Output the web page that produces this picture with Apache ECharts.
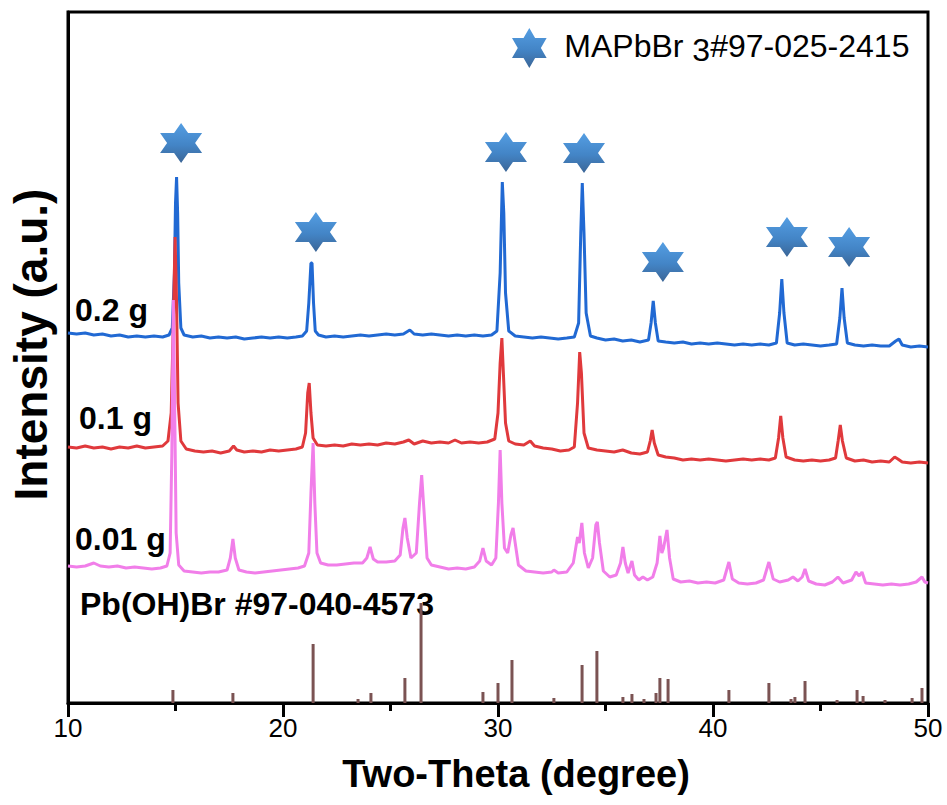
<!DOCTYPE html>
<html>
<head>
<meta charset="utf-8">
<script src="https://cdn.jsdelivr.net/npm/echarts@6/dist/echarts.min.js"></script>
<style>
html,body{margin:0;padding:0;background:#fff;}
#main{width:947px;height:805px;}
</style>
</head>
<body>
<div id="main"></div>
<script>
// ---- data (two-theta in degrees, intensity in a.u. with vertical offsets as plotted) ----
var xTicks = [10, 20, 30, 40, 50];

var sample02 = [
[10.0,370],[10.4,369],[10.8,370],[11.2,368],[11.6,369],[12.0,367],[12.4,368],[12.8,366],[13.2,367],[13.6,366],[14.0,367],[14.4,366],[14.7,368],
[14.85,375],[14.95,430],[15.0,500],[15.05,526],[15.1,490],[15.15,420],[15.25,375],[15.4,368],
[15.8,366],[16.2,367],[16.6,365],[17.0,366],[17.4,365],[17.8,366],[18.2,364],[18.6,365],[19.0,366],[19.4,365],[19.8,366],[20.2,365],[20.6,366],[20.9,367],
[21.1,372],[21.2,400],[21.3,440],[21.35,440],[21.42,400],[21.5,372],[21.65,368],
[22.0,366],[22.4,367],[22.8,366],[23.2,367],[23.6,368],[24.0,367],[24.4,368],[24.8,369],[25.2,368],[25.6,369],[25.9,373],[26.1,369],[26.5,368],[26.9,369],[27.3,368],[27.7,367],[28.1,368],[28.5,367],[28.9,368],[29.3,367],[29.7,368],
[29.95,372],[30.1,430],[30.2,521],[30.27,490],[30.35,410],[30.5,372],
[30.8,367],[31.2,366],[31.6,365],[32.0,366],[32.4,365],[32.8,364],[33.2,365],[33.55,366],
[33.75,380],[33.85,470],[33.92,520],[34.0,470],[34.1,390],[34.3,367],
[34.6,365],[35.0,363],[35.4,364],[35.8,362],[36.2,363],[36.6,361],[37.0,363],
[37.12,380],[37.22,402],[37.32,380],[37.45,362],
[37.8,361],[38.2,360],[38.6,361],[39.0,359],[39.4,360],[39.8,359],[40.2,360],[40.6,359],[41.0,358],[41.4,359],[41.8,358],[42.2,359],[42.6,358],[42.95,360],
[43.1,390],[43.2,424],[43.3,390],[43.45,360],
[43.8,358],[44.2,359],[44.6,358],[45.0,357],[45.4,358],[45.75,359],
[45.9,385],[46.0,415],[46.1,385],[46.25,360],
[46.6,358],[47.0,357],[47.4,358],[47.8,357],[48.2,357],[48.5,362],[48.65,364],[48.8,358],[49.2,356],[49.6,357],[50.0,356]
];

var sample01 = [
[10.0,256],[10.4,255],[10.8,257],[11.2,255],[11.6,256],[12.0,254],[12.4,256],[12.8,255],[13.2,257],[13.6,255],[14.0,256],[14.4,257],
[14.65,262],[14.8,290],[14.9,380],[14.98,466],[15.05,400],[15.12,300],[15.25,262],
[15.5,254],[15.9,252],[16.3,251],[16.7,252],[17.1,250],[17.5,252],[17.7,257],[17.85,253],[18.2,251],[18.6,252],[19.0,251],[19.4,253],[19.8,252],[20.2,253],[20.6,254],[20.9,256],
[21.05,270],[21.15,310],[21.22,320],[21.3,290],[21.4,265],[21.6,258],
[22.0,257],[22.4,258],[22.8,257],[23.2,259],[23.6,258],[24.0,259],[24.4,258],[24.8,260],[25.2,259],[25.6,261],[25.85,263],[26.1,259],[26.5,262],[26.9,260],[27.3,261],[27.7,260],[28.0,263],[28.3,260],[28.7,261],[29.1,260],[29.5,261],
[29.85,264],[30.0,290],[30.1,340],[30.18,365],[30.25,330],[30.35,280],[30.5,262],
[30.8,259],[31.2,258],[31.5,262],[31.7,257],[32.1,255],[32.5,254],[32.9,252],[33.3,253],[33.55,256],
[33.7,300],[33.8,351],[33.88,330],[34.0,270],[34.2,255],
[34.6,253],[35.0,252],[35.4,251],[35.8,253],[36.2,250],[36.6,249],[36.95,251],
[37.08,262],[37.17,273],[37.27,260],[37.45,248],
[37.8,246],[38.2,245],[38.6,243],[39.0,244],[39.4,243],[39.8,244],[40.2,243],[40.6,242],[41.0,243],[41.4,244],[41.8,243],[42.2,244],[42.6,243],[42.9,245],
[43.05,265],[43.15,287],[43.25,265],[43.4,246],
[43.8,243],[44.2,242],[44.6,243],[45.0,242],[45.4,243],[45.7,245],
[45.82,262],[45.92,278],[46.02,262],[46.2,245],
[46.6,242],[47.0,243],[47.4,241],[47.8,242],[48.2,241],[48.45,246],[48.6,244],[48.8,241],[49.2,240],[49.6,241],[50.0,240]
];

var sample001 = [
[10.0,137],[10.4,136],[10.8,137],[11.2,140],[11.5,137],[11.9,136],[12.3,137],[12.7,135],[13.1,136],[13.5,135],[13.9,134],[14.3,135],[14.6,137],
[14.75,150],[14.83,250],[14.9,403],[14.96,300],[15.03,170],[15.15,138],
[15.4,132],[15.8,131],[16.2,130],[16.6,131],[17.0,131],[17.4,133],[17.55,145],[17.67,164],[17.78,145],[17.95,133],
[18.3,131],[18.7,130],[19.1,131],[19.5,132],[19.9,133],[20.3,134],[20.7,135],[21.0,137],
[21.2,150],[21.3,210],[21.4,260],[21.48,200],[21.58,150],[21.75,140],
[22.1,138],[22.5,138],[22.9,139],[23.3,140],[23.7,140],[23.9,145],[24.05,156],[24.2,144],[24.4,141],[24.8,141],[25.2,142],
[25.45,148],[25.58,175],[25.67,185],[25.78,165],[25.95,145],[26.2,150],[26.35,200],[26.45,228],[26.55,195],[26.7,145],
[26.9,138],[27.3,136],[27.7,134],[28.1,135],[28.5,134],[28.9,136],[29.15,142],[29.3,155],[29.45,142],[29.7,138],
[29.9,145],[30.02,200],[30.1,253],[30.18,200],[30.3,155],[30.45,150],[30.6,168],[30.7,175],[30.8,160],[30.95,138],
[31.3,132],[31.7,131],[32.1,130],[32.5,131],[32.6,133],[32.8,130],[33.2,131],
[33.5,140],[33.7,166],[33.78,160],[33.9,180],[34.02,150],[34.2,135],[34.4,145],[34.55,178],[34.62,181],[34.72,160],[34.9,132],
[35.2,126],[35.5,128],[35.7,140],[35.81,156],[35.92,140],[36.05,130],[36.23,142],[36.35,128],[36.55,123],[36.74,126],[36.95,123],
[37.2,126],[37.4,140],[37.53,167],[37.62,150],[37.7,155],[37.86,173],[37.98,145],[38.15,124],
[38.5,121],[38.9,122],[39.3,120],[39.7,121],[40.1,120],[40.5,123],[40.74,141],[40.9,124],[41.2,120],[41.6,119],[42.0,120],[42.35,123],[42.6,141],[42.8,124],
[43.1,121],[43.5,123],[43.72,126],[43.95,122],[44.15,126],[44.28,134],[44.45,122],[44.8,119],[45.2,118],[45.55,121],[45.81,126],[46.05,120],
[46.45,123],[46.65,131],[46.8,127],[46.93,131],[47.1,120],[47.5,119],[47.9,118],[48.3,119],[48.7,118],[49.1,119],[49.45,121],[49.72,126],[49.85,121],[50.0,120]
];

// Pb(OH)Br reference pattern #97-040-4573 (stick positions and heights)
var refPbOHBr = [
[14.88,13],[17.67,10],[21.4,59],[23.49,4],[24.09,10],[25.67,25],[26.42,100],[29.3,11],[30.0,20],[30.65,43],
[32.6,5],[33.91,38],[34.6,52],[35.81,6],[36.23,9],[36.79,4],[37.35,10],[37.53,25],[37.91,24],[40.74,13],
[42.6,20],[43.63,4],[43.81,6],[44.28,22],[45.77,3],[46.7,13],[46.98,7],[48.0,3],[49.26,5],[49.72,15]
];

// MAPbBr3 peak markers (stars)
var starMarks = [[15.26,560],[21.53,471],[30.37,551],[34.0,550],[37.67,441],[43.44,466],[46.33,456]];

var sampleLabels = ['0.2 g', '0.1 g', '0.01 g', 'Pb(OH)Br #97-040-4573'];

// ---- chart ----
var FONT = '"Liberation Sans", Arial, sans-serif';
var STAR = 'path://M0,-10 L2.887,-5 L8.66,-5 L5.774,0 L8.66,5 L2.887,5 L0,10 L-2.887,5 L-8.66,5 L-5.774,0 L-8.66,-5 L-2.887,-5 Z';
var starFill = {type:'linear', x:0, y:0, x2:0, y2:1, colorStops:[{offset:0,color:'#2a86dc'},{offset:0.55,color:'#1466b8'},{offset:1,color:'#0a3f7c'}]};

var chart = echarts.init(document.getElementById('main'), null, {renderer:'svg'});
var option = {
  animation: false,
  backgroundColor: '#fff',
  textStyle: {fontFamily: FONT},
  grid: {left: 68, right: 19, top: 12, bottom: 102, show: true, borderColor: '#000', borderWidth: 3, backgroundColor: 'transparent'},
  legend: {
    left: 512, top: 22, padding: 0,
    itemWidth: 42, itemHeight: 40,
    icon: STAR,
    data: ['MAPbBr3#97-025-2415'],
    formatter: function(){ return '{f|MAPbBr }{s|3}{m|#97-025-2415}'; },
    textStyle: {
      color: '#000', fontFamily: FONT, fontSize: 32,
      rich: {
        f: {fontSize: 32, fontFamily: FONT, color:'#000', verticalAlign: 'top', lineHeight: 36, padding: [0,0,0,9]},
        m: {fontSize: 32, fontFamily: FONT, color:'#000', verticalAlign: 'top', lineHeight: 36},
        s: {fontSize: 32, fontFamily: FONT, color:'#000', verticalAlign: 'bottom', lineHeight: 36, padding: [12,0,0,0]}
      }
    }
  },
  xAxis: {
    type: 'value', min: xTicks[0], max: xTicks[xTicks.length-1], interval: 10,
    name: 'Two-Theta (degree)', nameLocation: 'middle', nameGap: 52,
    nameTextStyle: {fontSize: 38, fontWeight: 'bold', color: '#000', fontFamily: FONT, padding: [0,0,0,36]},
    axisLine: {show: true, onZero: false, lineStyle: {color: '#000', width: 3}},
    axisTick: {show: true, inside: false, length: 14, lineStyle: {color: '#000', width: 3}},
    minorTick: {show: true, splitNumber: 2, length: 8, lineStyle: {color: '#000', width: 3}},
    axisLabel: {fontSize: 26, color: '#000', margin: 12, fontFamily: FONT},
    splitLine: {show: false}, minorSplitLine: {show: false}
  },
  yAxis: {
    type: 'value', min: 0, max: 691,
    name: 'Intensity (a.u.)', nameLocation: 'middle', nameGap: 14, nameRotate: 90,
    nameTextStyle: {fontSize: 46, fontWeight: 'bold', color: '#000', fontFamily: FONT, padding: [0,0,0,26]},
    axisLine: {show: true, lineStyle: {color: '#000', width: 3}},
    axisTick: {show: false}, axisLabel: {show: false}, splitLine: {show: false}
  },
  series: [
    {name: 'Pb(OH)Br', type: 'bar', data: refPbOHBr, barWidth: 3, itemStyle: {color: '#7b5353'}, z: 2},
    {name: '0.2 g', type: 'line', data: sample02, showSymbol: false, lineStyle: {color: '#2169d3', width: 3}, itemStyle:{color:'#2169d3'}, z: 3},
    {name: '0.1 g', type: 'line', data: sample01, showSymbol: false, lineStyle: {color: '#e0393c', width: 3}, itemStyle:{color:'#e0393c'}, z: 4},
    {name: '0.01 g', type: 'line', data: sample001, showSymbol: false, lineStyle: {color: '#f17ee9', width: 3}, itemStyle:{color:'#f17ee9'}, z: 5},
    {name: 'MAPbBr3#97-025-2415', type: 'scatter', data: starMarks, symbol: STAR, symbolSize: [42, 40], itemStyle: {color: starFill}, z: 6}
  ],
  graphic: [
    {type:'text', x: 75, y: 310, style:{text: sampleLabels[0], font: 'bold 32px ' + FONT, fill:'#000', verticalAlign:'middle', textVerticalAlign:'middle'}},
    {type:'text', x: 79, y: 418, style:{text: sampleLabels[1], font: 'bold 32px ' + FONT, fill:'#000', verticalAlign:'middle', textVerticalAlign:'middle'}},
    {type:'text', x: 75, y: 539, style:{text: sampleLabels[2], font: 'bold 32px ' + FONT, fill:'#000', verticalAlign:'middle', textVerticalAlign:'middle'}},
    {type:'text', x: 80, y: 604, style:{text: sampleLabels[3], font: 'bold 32px ' + FONT, fill:'#000', verticalAlign:'middle', textVerticalAlign:'middle'}}
  ]
};
chart.setOption(option);
</script>
</body>
</html>
